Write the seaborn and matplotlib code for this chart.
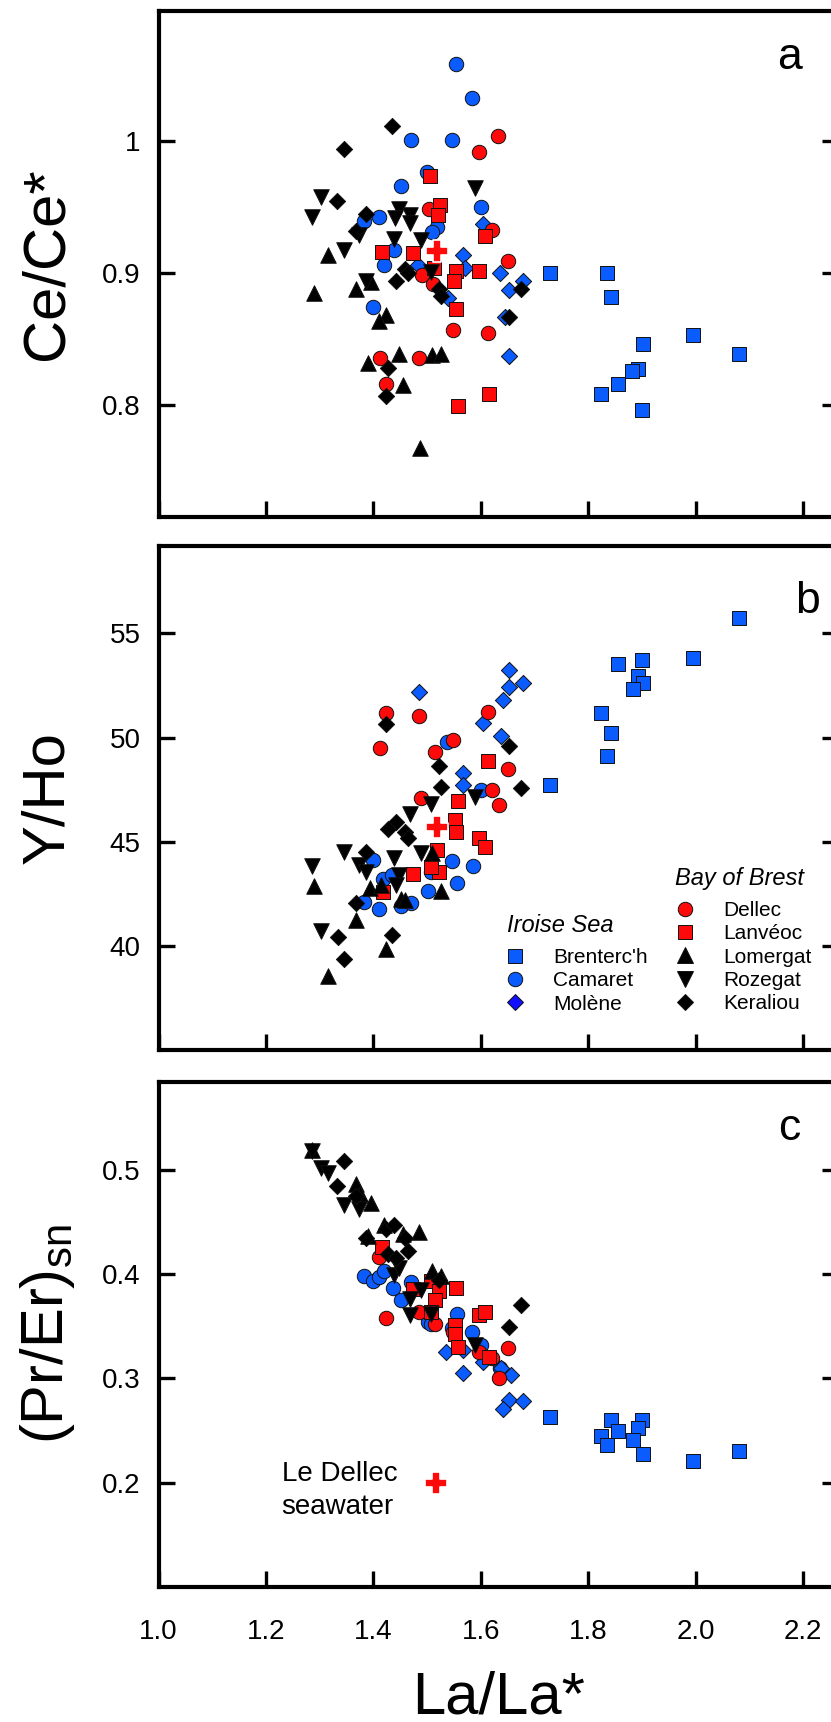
import numpy as np
import pandas as pd
import matplotlib
matplotlib.use("Agg")
import matplotlib.pyplot as plt
from matplotlib.lines import Line2D
import seaborn as sns

sns.set_style("white")
plt.rcParams['font.family'] = ['Liberation Sans', 'DejaVu Sans']
plt.rcParams['mathtext.fontset'] = 'custom'
plt.rcParams['mathtext.rm'] = 'Liberation Sans'
plt.rcParams['text.color'] = 'black'
plt.rcParams['axes.labelcolor'] = 'black'
plt.rcParams['xtick.color'] = 'black'
plt.rcParams['ytick.color'] = 'black'

# ---------------- data : panel a (Ce/Ce*) ----------------
brent_a_x = [1.728, 1.835, 1.842, 1.995, 1.902, 2.080, 1.892, 1.882, 1.856, 1.824, 1.900]
brent_a_y = [0.900, 0.900, 0.882, 0.853, 0.846, 0.839, 0.827, 0.826, 0.816, 0.808, 0.796]
cam_a_x = [1.554, 1.584, 1.470, 1.546, 1.500, 1.452, 1.601, 1.411, 1.382, 1.518, 1.510, 1.438, 1.419, 1.399]
cam_a_y = [1.059, 1.033, 1.001, 1.001, 0.977, 0.966, 0.950, 0.943, 0.940, 0.935, 0.931, 0.918, 0.906, 0.874]
mol_a_x = [1.605, 1.567, 1.484, 1.571, 1.636, 1.678, 1.653, 1.539, 1.645, 1.653]
mol_a_y = [0.937, 0.914, 0.906, 0.904, 0.900, 0.894, 0.887, 0.881, 0.867, 0.837]
del_a_x = [1.632, 1.597, 1.504, 1.621, 1.650, 1.490, 1.511, 1.548, 1.613, 1.412, 1.485, 1.424]
del_a_y = [1.004, 0.992, 0.949, 0.933, 0.909, 0.899, 0.892, 0.857, 0.855, 0.836, 0.836, 0.816]
lan_a_x = [1.506, 1.524, 1.521, 1.608, 1.417, 1.473, 1.554, 1.597, 1.551, 1.553, 1.615, 1.558, 1.512]
lan_a_y = [0.974, 0.952, 0.944, 0.928, 0.916, 0.915, 0.902, 0.902, 0.894, 0.873, 0.808, 0.799, 0.904]
lom_a_x = [1.316, 1.289, 1.368, 1.395, 1.423, 1.410, 1.448, 1.390, 1.510, 1.526, 1.456, 1.487]
lom_a_y = [0.914, 0.885, 0.888, 0.893, 0.868, 0.864, 0.839, 0.832, 0.838, 0.839, 0.815, 0.767]
roz_a_x = [1.303, 1.286, 1.590, 1.447, 1.469, 1.440, 1.469, 1.374, 1.438, 1.488, 1.345, 1.386, 1.508]
roz_a_y = [0.958, 0.943, 0.965, 0.949, 0.944, 0.942, 0.938, 0.929, 0.926, 0.925, 0.918, 0.894, 0.901]
ker_a_x = [1.435, 1.345, 1.332, 1.387, 1.368, 1.459, 1.442, 1.465, 1.522, 1.525, 1.674, 1.652, 1.427, 1.423]
ker_a_y = [1.012, 0.994, 0.955, 0.945, 0.932, 0.903, 0.894, 0.900, 0.888, 0.883, 0.888, 0.867, 0.828, 0.807]
sw_a_x = [1.519]
sw_a_y = [0.917]

# ---------------- data : panel b (Y/Ho) ----------------
brent_b_x = [2.080, 1.856, 1.900, 1.995, 1.892, 1.902, 1.883, 1.824, 1.842, 1.835, 1.728]
brent_b_y = [55.72, 53.52, 53.74, 53.81, 52.96, 52.64, 52.32, 51.16, 50.22, 49.11, 47.74]
cam_b_x = [1.537, 1.601, 1.400, 1.546, 1.585, 1.418, 1.555, 1.501, 1.382, 1.410, 1.452, 1.471, 1.508, 1.434]
cam_b_y = [49.81, 47.47, 44.12, 44.08, 43.85, 43.22, 43.04, 42.64, 42.09, 41.77, 41.93, 42.05, 43.57, 43.41]
mol_b_x = [1.653, 1.485, 1.653, 1.678, 1.642, 1.605, 1.637, 1.566, 1.566]
mol_b_y = [53.25, 52.21, 52.44, 52.60, 51.80, 50.70, 50.10, 48.30, 47.71]
del_b_x = [1.423, 1.485, 1.613, 1.412, 1.548, 1.514, 1.650, 1.621, 1.489, 1.633]
del_b_y = [51.18, 51.02, 51.24, 49.52, 49.89, 49.33, 48.50, 47.50, 47.09, 46.77]
lan_b_x = [1.614, 1.558, 1.552, 1.554, 1.597, 1.608, 1.519, 1.523, 1.473, 1.508, 1.418]
lan_b_y = [48.90, 46.94, 46.04, 45.48, 45.16, 44.76, 44.60, 43.57, 43.44, 43.81, 42.58]
lom_b_x = [1.510, 1.289, 1.394, 1.415, 1.451, 1.525, 1.368, 1.424, 1.316, 1.459]
lom_b_y = [44.44, 42.88, 42.77, 42.93, 42.26, 42.64, 41.26, 39.86, 38.55, 42.21]
roz_b_x = [1.508, 1.590, 1.469, 1.345, 1.286, 1.374, 1.438, 1.386, 1.447, 1.488, 1.303, 1.442]
roz_b_y = [46.83, 47.15, 46.35, 44.52, 43.84, 43.89, 44.20, 43.57, 43.38, 44.44, 40.70, 42.93]
ker_b_x = [1.423, 1.652, 1.522, 1.525, 1.674, 1.442, 1.428, 1.459, 1.465, 1.387, 1.368, 1.334, 1.435, 1.345]
ker_b_y = [50.65, 49.62, 48.66, 47.63, 47.58, 45.96, 45.61, 45.48, 45.16, 44.52, 42.05, 40.43, 40.54, 39.35]
sw_b_x = [1.519]
sw_b_y = [45.70]

# ---------------- data : panel c ((Pr/Er)sn) ----------------
brent_c_x = [1.728, 1.842, 1.900, 1.892, 1.856, 1.824, 1.835, 1.883, 1.902, 1.995, 2.080]
brent_c_y = [0.2625, 0.2603, 0.2597, 0.2524, 0.2492, 0.2444, 0.2365, 0.2406, 0.2270, 0.2206, 0.2302]
cam_c_x = [1.382, 1.399, 1.410, 1.419, 1.436, 1.452, 1.470, 1.501, 1.508, 1.546, 1.555, 1.584, 1.601, 1.636]
cam_c_y = [0.3984, 0.3937, 0.3968, 0.4032, 0.3867, 0.3752, 0.3921, 0.3540, 0.3524, 0.3486, 0.3619, 0.3444, 0.3317, 0.3095]
mol_c_x = [1.535, 1.566, 1.605, 1.566, 1.637, 1.656, 1.653, 1.678, 1.642]
mol_c_y = [0.3254, 0.3270, 0.3159, 0.3048, 0.3102, 0.3032, 0.2794, 0.2778, 0.2708]
del_c_x = [1.410, 1.423, 1.485, 1.514, 1.548, 1.596, 1.621, 1.650, 1.633]
del_c_y = [0.4159, 0.3578, 0.3635, 0.3524, 0.3444, 0.3254, 0.3190, 0.3292, 0.3006]
lan_c_x = [1.416, 1.473, 1.507, 1.523, 1.554, 1.515, 1.597, 1.608, 1.552, 1.552, 1.557, 1.615, 1.508]
lan_c_y = [0.4254, 0.3857, 0.3937, 0.3841, 0.3867, 0.3746, 0.3610, 0.3635, 0.3508, 0.3429, 0.3302, 0.3206, 0.3635]
lom_c_x = [1.286, 1.368, 1.375, 1.395, 1.419, 1.455, 1.485, 1.390, 1.510, 1.525]
lom_c_y = [0.5190, 0.4867, 0.4762, 0.4683, 0.4467, 0.4381, 0.4403, 0.4365, 0.4032, 0.3978]
roz_c_x = [1.286, 1.303, 1.315, 1.345, 1.374, 1.438, 1.447, 1.469, 1.469, 1.488, 1.507, 1.590]
roz_c_y = [0.5175, 0.5016, 0.4968, 0.4657, 0.4619, 0.3994, 0.4054, 0.3756, 0.3603, 0.3848, 0.3619, 0.3324]
ker_c_x = [1.345, 1.332, 1.368, 1.387, 1.423, 1.438, 1.428, 1.442, 1.459, 1.465, 1.522, 1.674, 1.652]
ker_c_y = [0.5079, 0.4848, 0.4746, 0.4349, 0.4435, 0.4467, 0.4190, 0.4149, 0.4349, 0.4222, 0.3946, 0.3705, 0.3492]
sw_c_x = [1.516]
sw_c_y = [0.200]

site_names = ["Brenterc'h", "Camaret", "Molène", "Dellec", "Lanvéoc", "Lomergat", "Rozegat", "Keraliou"]
iroise_sites = ["Brenterc'h", "Camaret", "Molène"]
brest_sites = ["Dellec", "Lanvéoc", "Lomergat", "Rozegat", "Keraliou"]
x_ticks = [1.0, 1.2, 1.4, 1.6, 1.8, 2.0, 2.2]
x_ticklabels = ["1.0", "1.2", "1.4", "1.6", "1.8", "2.0", "2.2"]
a_ticks = [0.8, 0.9, 1.0]
a_ticklabels = ["0.8", "0.9", "1"]
b_ticks = [40, 45, 50, 55]
b_ticklabels = ["40", "45", "50", "55"]
c_ticks = [0.2, 0.3, 0.4, 0.5]
c_ticklabels = ["0.2", "0.3", "0.4", "0.5"]

# ---------------- styles ----------------
BLUE = "#0a5cff"
RED = "#ff0a0a"
BLACK = "#000000"
style = {
    "Brenterc'h": dict(marker="s", color=BLUE, s=115),
    "Camaret": dict(marker="o", color=BLUE, s=108),
    "Molène": dict(marker="D", color=BLUE, s=68),
    "Dellec": dict(marker="o", color=RED, s=108),
    "Lanvéoc": dict(marker="s", color=RED, s=115),
    "Lomergat": dict(marker="^", color=BLACK, s=125),
    "Rozegat": dict(marker="v", color=BLACK, s=125),
    "Keraliou": dict(marker="D", color=BLACK, s=68),
}

panels = [
    dict(data={"Brenterc'h": (brent_a_x, brent_a_y), "Camaret": (cam_a_x, cam_a_y), "Molène": (mol_a_x, mol_a_y),
               "Dellec": (del_a_x, del_a_y), "Lanvéoc": (lan_a_x, lan_a_y), "Lomergat": (lom_a_x, lom_a_y),
               "Rozegat": (roz_a_x, roz_a_y), "Keraliou": (ker_a_x, ker_a_y)},
         sw=(sw_a_x, sw_a_y), ylim=(0.715, 1.099), ticks=a_ticks, ticklabels=a_ticklabels,
         ylabel="Ce/Ce*", letter="a", letter_xy=(2.174, 1.0553), top=11, bottom=517),
    dict(data={"Brenterc'h": (brent_b_x, brent_b_y), "Camaret": (cam_b_x, cam_b_y), "Molène": (mol_b_x, mol_b_y),
               "Dellec": (del_b_x, del_b_y), "Lanvéoc": (lan_b_x, lan_b_y), "Lomergat": (lom_b_x, lom_b_y),
               "Rozegat": (roz_b_x, roz_b_y), "Keraliou": (ker_b_x, ker_b_y)},
         sw=(sw_b_x, sw_b_y), ylim=(35.0, 59.2), ticks=b_ticks, ticklabels=b_ticklabels,
         ylabel="Y/Ho", letter="b", letter_xy=(2.208, 55.99), top=546, bottom=1050),
    dict(data={"Brenterc'h": (brent_c_x, brent_c_y), "Camaret": (cam_c_x, cam_c_y), "Molène": (mol_c_x, mol_c_y),
               "Dellec": (del_c_x, del_c_y), "Lanvéoc": (lan_c_x, lan_c_y), "Lomergat": (lom_c_x, lom_c_y),
               "Rozegat": (roz_c_x, roz_c_y), "Keraliou": (ker_c_x, ker_c_y)},
         sw=(sw_c_x, sw_c_y), ylim=(0.10, 0.584), ticks=c_ticks, ticklabels=c_ticklabels,
         ylabel=r"(Pr/Er)$_{\mathregular{sn}}$", letter="c", letter_xy=(2.174, 0.5286), top=1082, bottom=1587),
]

W, H = 831, 1722
LEFT, RIGHT = 158.5, 838.0
fig = plt.figure(figsize=(W / 100, H / 100), dpi=100)

axes = []
for i, p in enumerate(panels):
    ax = fig.add_axes([LEFT / W, 1 - p["bottom"] / H, (RIGHT - LEFT) / W, (p["bottom"] - p["top"]) / H])
    axes.append(ax)
    for name in site_names:
        xs, ys = p["data"][name]
        df = pd.DataFrame({"x": xs, "y": ys})
        st = style[name]
        sns.scatterplot(data=df, x="x", y="y", ax=ax, marker=st["marker"], color=st["color"],
                        s=st["s"], edgecolor="#111111", linewidth=0.7, legend=False, zorder=3)
    dsw = pd.DataFrame({"x": p["sw"][0], "y": p["sw"][1]})
    sns.scatterplot(data=dsw, x="x", y="y", ax=ax, marker="P", color=RED, s=240,
                    edgecolor="white", linewidth=1.2, legend=False, zorder=4)

    ax.set_xlim(1.0, 2.265)
    ax.set_ylim(*p["ylim"])
    ax.set_yticks(p["ticks"])
    ax.set_yticklabels(p["ticklabels"])
    ax.set_xticks(x_ticks)
    for sp in ax.spines.values():
        sp.set_linewidth(3.0)
        sp.set_color("black")
    ax.tick_params(axis="y", direction="in", length=11.5, width=2.4, left=True, right=True,
                   labelsize=20, pad=13, colors="black")
    ax.tick_params(axis="x", direction="in", length=11.5, width=2.4, bottom=True, top=False,
                   labelsize=20, pad=23, colors="black")
    if i < 2:
        ax.set_xticklabels([])
        ax.set_xlabel("")
    else:
        ax.set_xticklabels(x_ticklabels)
        ax.set_xlabel("La/La*", fontsize=43, va="baseline", color="black")
        ax.xaxis.set_label_coords(0.5, -(1713 - p["bottom"]) / (p["bottom"] - p["top"]))
    ax.set_ylabel(p["ylabel"], fontsize=43, va="baseline", color="black")
    ax.yaxis.set_label_coords((63 - LEFT) / (RIGHT - LEFT), 0.5)
    ax.text(p["letter_xy"][0], p["letter_xy"][1], p["letter"], fontsize=32, color="black",
            ha="center", va="baseline", zorder=5)
    ax.grid(False)

# annotation for the seawater cross
ax_c = axes[2]
ax_c.text(1.229, 0.2016, "Le Dellec", fontsize=20, ha="left", va="baseline", color="black")
ax_c.text(1.229, 0.170, "seawater", fontsize=20, ha="left", va="baseline", color="black")

# legends in panel b
ax_b = axes[1]
bh = panels[1]["bottom"] - panels[1]["top"]

def handles_for(names):
    hs = []
    for n in names:
        st = style[n]
        fc = st["color"]
        if n == "Molène":
            fc = "#1010ff"
        hs.append(Line2D([], [], linestyle="none", marker=st["marker"], markerfacecolor=fc,
                         markeredgecolor="#111111", markeredgewidth=0.7,
                         markersize=np.sqrt(st["s"])))
    return hs

leg_kw = dict(loc="upper left", frameon=False, fontsize=15, borderpad=0.0, borderaxespad=0.0,
              handlelength=1.5, handletextpad=1.1, labelspacing=0.2, labelcolor="black")
leg1 = ax_b.legend(handles_for(iroise_sites), iroise_sites,
                   bbox_to_anchor=((499 - LEFT) / (RIGHT - LEFT), (1050 - 948.3) / bh), **leg_kw)
ax_b.add_artist(leg1)
leg2 = ax_b.legend(handles_for(brest_sites), brest_sites,
                   bbox_to_anchor=((669 - LEFT) / (RIGHT - LEFT), (1050 - 901.3) / bh), **leg_kw)
ax_b.text((507 - LEFT) / (RIGHT - LEFT), (1050 - 926) / bh, "Iroise Sea", transform=ax_b.transAxes,
          fontsize=17, style="italic", ha="left", va="center", color="black")
ax_b.text((675 - LEFT) / (RIGHT - LEFT), (1050 - 878) / bh, "Bay of Brest", transform=ax_b.transAxes,
          fontsize=17, style="italic", ha="left", va="center", color="black")

fig.savefig("out.png", dpi=100)
